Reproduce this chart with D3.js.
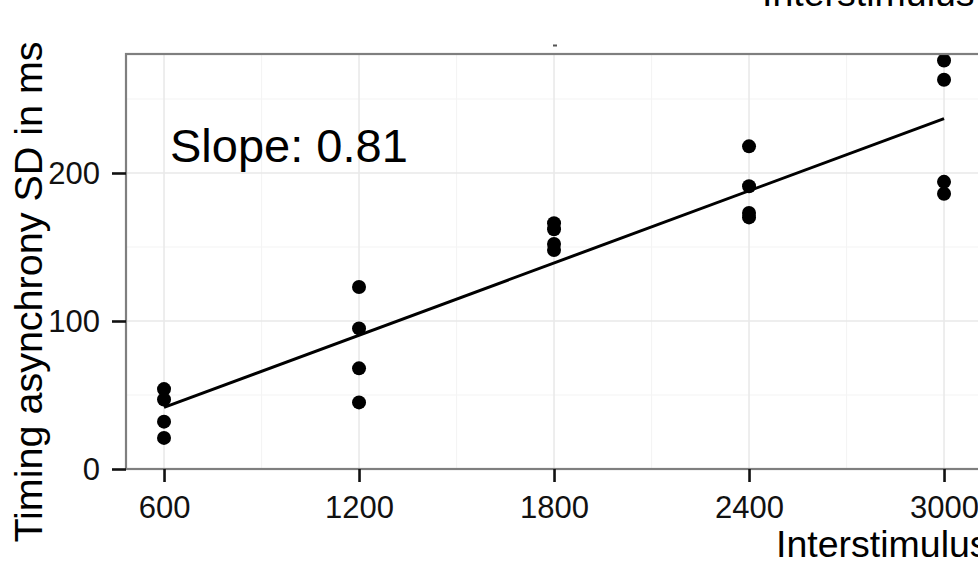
<!DOCTYPE html>
<html>
<head>
<meta charset="utf-8">
<script src="https://cdn.jsdelivr.net/npm/d3@7"></script>
<style>
  html, body { margin: 0; padding: 0; background: #fff; overflow: hidden; }
  svg { display: block; font-family: "Liberation Sans", Arial, sans-serif; }
</style>
</head>
<body>
<svg id="chart" width="978" height="561"></svg>
<script>
// Interstimulus interval (ms) for each group of trials
const intervals = [600, 1200, 1800, 2400, 3000];
// Timing asynchrony SD (ms), one list per interval
const sd600  = [54, 47, 32, 21];
const sd1200 = [123, 95, 68, 45];
const sd1800 = [166, 162, 152, 148];
const sd2400 = [218, 191, 173, 170];
const sd3000 = [276, 263, 194, 186];
const sdGroups = [sd600, sd1200, sd1800, sd2400, sd3000];

const xTicks = [600, 1200, 1800, 2400, 3000];
const xMinor = [900, 1500, 2100, 2700];
const yTicks = [0, 100, 200];
const yMinor = [50, 150, 250];
const slopeLabel = "Slope: 0.81";

const points = [];
intervals.forEach((iv, i) => sdGroups[i].forEach(v => points.push({x: iv, y: v})));

// least-squares fit through all points
const mx = d3.mean(points, d => d.x), my = d3.mean(points, d => d.y);
const b = d3.sum(points, d => (d.x - mx) * (d.y - my)) / d3.sum(points, d => (d.x - mx) ** 2);
const a = my - b * mx;
const fit = [600, 3000].map(x => ({x, y: a + b * x}));

const svg = d3.select("#chart");
const panel = {left: 126, right: 1010, top: 54, bottom: 469};

const x = d3.scaleLinear().domain([483, 3203]).range([panel.left, panel.right]);
const y = d3.scaleLinear().domain([0, 280.4]).range([panel.bottom, panel.top]);

// panel background
svg.append("rect")
  .attr("x", panel.left).attr("y", panel.top)
  .attr("width", panel.right - panel.left).attr("height", panel.bottom - panel.top)
  .attr("fill", "#fff");

// minor grid
const grid = svg.append("g");
grid.selectAll(".xm").data(xMinor).join("line")
  .attr("x1", d => x(d)).attr("x2", d => x(d))
  .attr("y1", panel.top).attr("y2", panel.bottom)
  .attr("stroke", "#f4f4f4").attr("stroke-width", 1.2);
grid.selectAll(".ym").data(yMinor).join("line")
  .attr("y1", d => y(d)).attr("y2", d => y(d))
  .attr("x1", panel.left).attr("x2", panel.right)
  .attr("stroke", "#f4f4f4").attr("stroke-width", 1.2);
// major grid
grid.selectAll(".xM").data(xTicks).join("line")
  .attr("x1", d => x(d)).attr("x2", d => x(d))
  .attr("y1", panel.top).attr("y2", panel.bottom)
  .attr("stroke", "#e8e8e8").attr("stroke-width", 1.5);
grid.selectAll(".yM").data(yTicks).join("line")
  .attr("y1", d => y(d)).attr("y2", d => y(d))
  .attr("x1", panel.left).attr("x2", panel.right)
  .attr("stroke", "#e8e8e8").attr("stroke-width", 1.5);

// regression line
svg.append("path")
  .datum(fit)
  .attr("fill", "none").attr("stroke", "#000").attr("stroke-width", 3)
  .attr("d", d3.line().x(d => x(d.x)).y(d => y(d.y)));

// points
svg.append("g").selectAll("circle").data(points).join("circle")
  .attr("cx", d => x(d.x)).attr("cy", d => y(d.y)).attr("r", 7)
  .attr("fill", "#000");

// panel border
svg.append("rect")
  .attr("x", panel.left).attr("y", panel.top)
  .attr("width", panel.right - panel.left).attr("height", panel.bottom - panel.top)
  .attr("fill", "none").attr("stroke", "#7f7f7f").attr("stroke-width", 2.2);

// axes
const xAxis = svg.append("g")
  .attr("transform", `translate(0,${panel.bottom})`)
  .call(d3.axisBottom(x).tickValues(xTicks).tickFormat(d3.format("d"))
    .tickSize(13).tickPadding(14).tickSizeOuter(0));
const yAxis = svg.append("g")
  .attr("transform", `translate(${panel.left},0)`)
  .call(d3.axisLeft(y).tickValues(yTicks).tickFormat(d3.format("d"))
    .tickSize(14).tickPadding(12).tickSizeOuter(0));
[xAxis, yAxis].forEach(g => {
  g.select(".domain").remove();
  g.selectAll(".tick line").attr("stroke", "#111").attr("stroke-width", 2.6);
  g.selectAll(".tick text").attr("fill", "#111")
    .style("font-size", "31px")
    .style("font-family", "'Liberation Sans', Arial, sans-serif");
});
yAxis.selectAll(".tick text").attr("dy", "0.35em");

// annotation
svg.append("text")
  .attr("x", 170).attr("y", 162)
  .attr("font-size", 47).attr("fill", "#000")
  .text(slopeLabel);

// axis titles
svg.append("text")
  .attr("transform", `translate(42,292) rotate(-90)`)
  .attr("text-anchor", "middle")
  .attr("font-size", 39.5).attr("fill", "#000")
  .text("Timing asynchrony SD in ms");

svg.append("text")
  .attr("x", 776).attr("y", 557)
  .attr("font-size", 37.5).attr("fill", "#000")
  .text("Interstimulus");

svg.append("text")
  .attr("x", 762).attr("y", 6)
  .attr("font-size", 37.5).attr("fill", "#000")
  .text("Interstimulus");

// small mark above the panel
svg.append("rect")
  .attr("x", 553).attr("y", 44.5).attr("width", 4).attr("height", 2)
  .attr("fill", "#555");
</script>
</body>
</html>
